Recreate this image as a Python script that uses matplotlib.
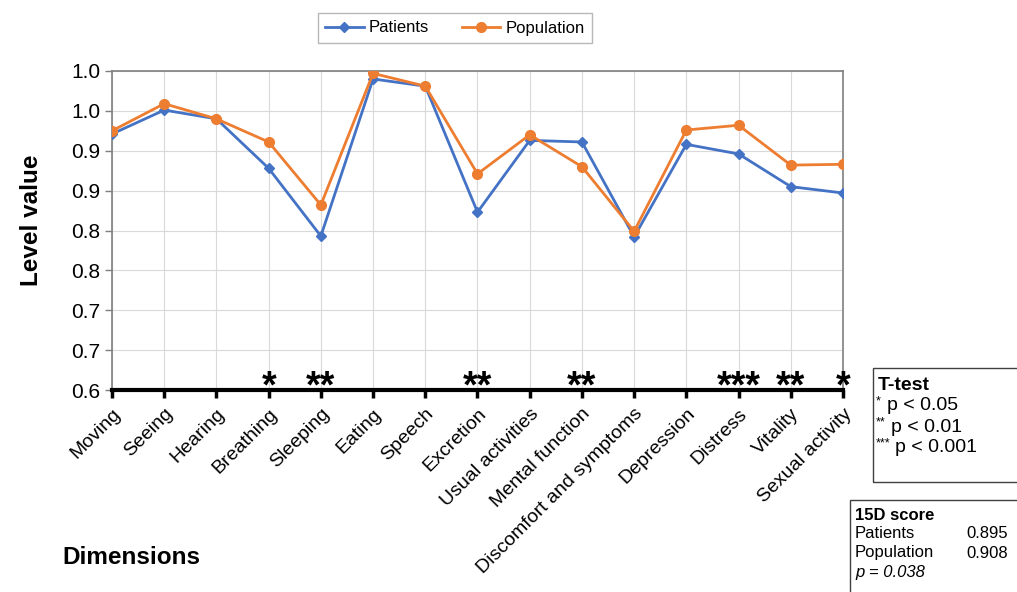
import math
import numpy as np
import matplotlib
matplotlib.use("Agg")
import matplotlib.pyplot as plt
from matplotlib.patches import Rectangle
from matplotlib.ticker import FuncFormatter

# data
dimensions = ["Moving", "Seeing", "Hearing", "Breathing", "Sleeping", "Eating",
              "Speech", "Excretion", "Usual activities", "Mental function",
              "Discomfort and symptoms", "Depression", "Distress", "Vitality",
              "Sexual activity"]
patients = [0.921, 0.951, 0.940, 0.878, 0.793, 0.990, 0.981, 0.823, 0.913,
            0.911, 0.792, 0.908, 0.896, 0.855, 0.847]
population = [0.925, 0.959, 0.940, 0.911, 0.832, 0.997, 0.981, 0.871, 0.920,
              0.880, 0.799, 0.926, 0.932, 0.882, 0.883]
stars = ["", "", "", "*", "**", "", "", "**", "", "**", "", "", "***", "**", "*"]

plt.rcParams["font.family"] = ["Liberation Sans", "DejaVu Sans"]

BLUE = "#4472C4"
ORANGE = "#ED7D31"

fig = plt.figure(figsize=(10.17, 5.92), dpi=100)
ax = fig.add_axes([112 / 1017, 1 - 390 / 592, (843 - 112) / 1017, (390 - 71) / 592])

x = np.arange(len(dimensions))
ax.plot(x, patients, color=BLUE, lw=2, marker="D", ms=5, label="Patients", zorder=3)
ax.plot(x, population, color=ORANGE, lw=2, marker="o", ms=7, label="Population", zorder=4)

ax.set_xlim(0, len(dimensions) - 1)
ax.set_ylim(0.6, 1.0)
ax.set_yticks(np.arange(0.6, 1.0001, 0.05))
ax.yaxis.set_major_formatter(FuncFormatter(lambda v, p: f"{math.floor(v * 10 + 0.5 + 1e-6) / 10:.1f}"))
ax.set_xticks(x)
ax.set_xticklabels(dimensions, rotation=45, ha="right", va="top", rotation_mode="anchor", fontsize=14)
ax.tick_params(axis="y", labelsize=15, color="#7f7f7f", length=5, width=1)
ax.tick_params(axis="x", color="black", length=6, width=2.5, pad=5)

ax.grid(True, color="#d9d9d9", lw=0.8)
ax.set_axisbelow(True)
for s in ["top", "right", "left"]:
    ax.spines[s].set_color("#7f7f7f")
    ax.spines[s].set_linewidth(1.2)
ax.spines["bottom"].set_color("black")
ax.spines["bottom"].set_linewidth(3)
ax.spines["bottom"].set_zorder(5)

# significance stars
for xi, s in zip(x, stars):
    if s:
        ax.annotate(s, (xi, 0.6), xytext=(0, -11), textcoords="offset points",
                    ha="center", va="bottom", fontsize=27, fontweight="bold",
                    annotation_clip=False, zorder=6)

fig.text(32 / 1017, 1 - 220 / 592, "Level value", rotation=90, fontsize=17.5,
         fontweight="bold", ha="center", va="center")
fig.text(62 / 1017, 1 - 557 / 592, "Dimensions", fontsize=17.5, fontweight="bold",
         ha="left", va="center")

leg = fig.legend(loc="center", bbox_to_anchor=(455 / 1017, 1 - 28 / 592), ncol=2,
                 fontsize=12, frameon=True, fancybox=False, edgecolor="#a6a6a6",
                 handlelength=2.3, handletextpad=0.3, columnspacing=2, borderpad=0.45)
leg.get_frame().set_linewidth(1)

# T-test box
fig.patches.append(Rectangle((873 / 1017, 1 - 482 / 592), 150 / 1017, 114 / 592,
                             transform=fig.transFigure, fill=False, edgecolor="#404040", lw=1))
fig.text(878 / 1017, 1 - 385 / 592, "T-test", fontsize=14, fontweight="bold", va="center")
for i, (st, txt) in enumerate([("*", "p < 0.05"), ("**", "p < 0.01"), ("***", "p < 0.001")]):
    yy = 1 - (406 + i * 21) / 592
    fig.text(876 / 1017, yy + 5 / 592, st, fontsize=9, va="center")
    fig.text((883 + 4 * len(st)) / 1017, yy, txt, fontsize=14, va="center")

# 15D score box
fig.patches.append(Rectangle((850 / 1017, 1 - 600 / 592), 180 / 1017, 100 / 592,
                             transform=fig.transFigure, fill=False, edgecolor="#404040", lw=1))
fig.text(855 / 1017, 1 - 515 / 592, "15D score", fontsize=12, fontweight="bold", va="center")
fig.text(855 / 1017, 1 - 534 / 592, "Patients", fontsize=12, va="center")
fig.text(1008 / 1017, 1 - 534 / 592, "0.895", fontsize=12, va="center", ha="right")
fig.text(855 / 1017, 1 - 553 / 592, "Population", fontsize=12, va="center")
fig.text(1008 / 1017, 1 - 553 / 592, "0.908", fontsize=12, va="center", ha="right")
fig.text(855 / 1017, 1 - 572 / 592, "p = 0.038", fontsize=12, va="center", style="italic")

fig.savefig("out.png", dpi=100)
